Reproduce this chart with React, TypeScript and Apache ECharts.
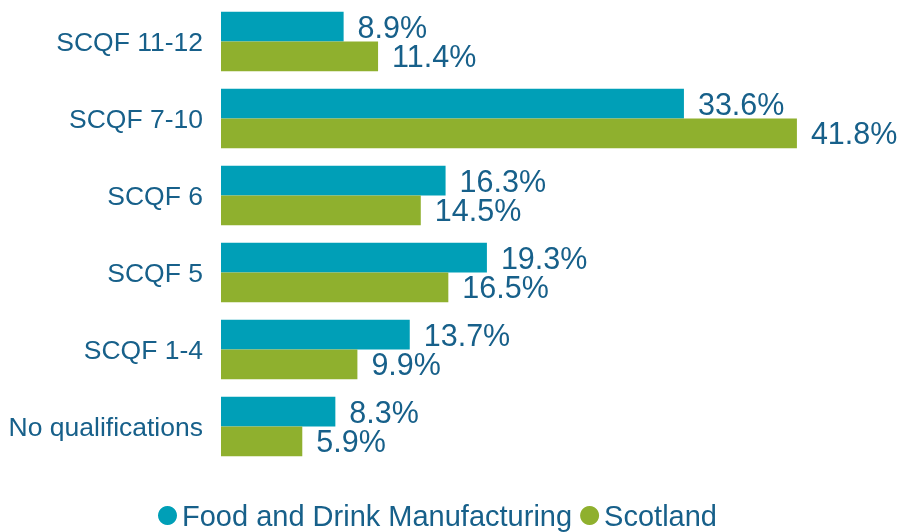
import React, { useEffect, useRef } from "react";
import * as echarts from "echarts";

const categories = ["No qualifications", "SCQF 1-4", "SCQF 5", "SCQF 6", "SCQF 7-10", "SCQF 11-12"];
const foodDrink = [8.3, 13.7, 19.3, 16.3, 33.6, 8.9];
const scotland = [5.9, 9.9, 16.5, 14.5, 41.8, 11.4];
const seriesNames = ["Food and Drink Manufacturing", "Scotland"];

const TEXT = "#17608a";
const FONT = "'Liberation Sans', Arial, sans-serif";

export default function App() {
  const ref = useRef<HTMLDivElement>(null);
  useEffect(() => {
    if (!ref.current) return;
    const chart = echarts.init(ref.current, undefined, { renderer: "svg" });
    const label = {
      show: true,
      position: "right" as const,
      distance: 14,
      color: TEXT,
      fontSize: 30.5,
      lineHeight: 28,
      fontFamily: FONT,
      formatter: (p: any) => p.value.toFixed(1) + "%",
    };
    chart.setOption({
      animation: false,
      textStyle: { fontFamily: FONT },
      grid: { left: 221, right: 63, top: 3, bottom: 67, containLabel: false },
      legend: {
        top: 501,
        left: 158,
        icon: "circle",
        itemWidth: 19,
        itemHeight: 19,
        itemGap: 8,
        padding: 0,
        textStyle: { color: TEXT, fontSize: 29, lineHeight: 29, fontFamily: FONT },
        data: seriesNames,
      },
      xAxis: {
        type: "value",
        min: 0,
        max: 45,
        show: false,
      },
      yAxis: {
        type: "category",
        data: categories,
        axisLine: { show: false },
        axisTick: { show: false },
        axisLabel: { color: TEXT, fontSize: 26.5, fontFamily: FONT, margin: 18 },
      },
      series: [
        {
          name: seriesNames[0],
          type: "bar",
          data: foodDrink,
          itemStyle: { color: "#009fb7" },
          barGap: "0%",
          barCategoryGap: "23%",
          label,
        },
        {
          name: seriesNames[1],
          type: "bar",
          data: scotland,
          itemStyle: { color: "#8fb02e" },
          barGap: "0%",
          barCategoryGap: "23%",
          label,
        },
      ],
    });
    return () => chart.dispose();
  }, []);
  return <div ref={ref} style={{ position: "fixed", left: 0, top: 0, width: 904, height: 532 }} />;
}
